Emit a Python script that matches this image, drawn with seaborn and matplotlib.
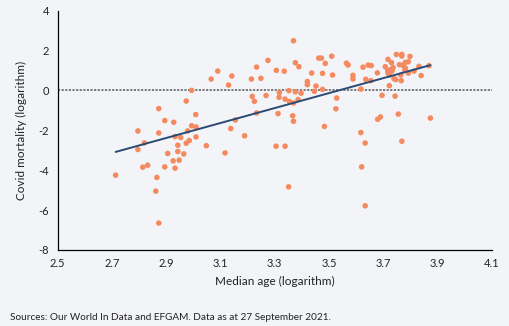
import matplotlib
matplotlib.use("Agg")
import matplotlib.pyplot as plt
import seaborn as sns
import pandas as pd
import numpy as np

# Median age (logarithm)
median_age_log = [
    2.714, 2.796, 2.796, 2.820, 2.832, 2.814, 2.862, 2.866, 2.873, 2.873,
    2.873, 2.895, 2.895, 2.906, 2.928, 2.926, 2.933, 2.933, 2.943, 2.943,
    2.948, 2.954, 2.965, 2.974, 2.974, 2.979, 2.985, 2.994, 2.994, 3.009,
    3.010, 3.010, 3.048, 3.066, 3.090, 3.117, 3.130, 3.138, 3.142, 3.155,
    3.189, 3.214, 3.217, 3.225, 3.233, 3.233, 3.249, 3.268, 3.275, 3.306,
    3.305, 3.312, 3.317, 3.316, 3.335, 3.338, 3.338, 3.351, 3.352, 3.354,
    3.366, 3.369, 3.369, 3.369, 3.376, 3.376, 3.386, 3.389, 3.397, 3.420,
    3.420, 3.436, 3.446, 3.452, 3.462, 3.472, 3.476, 3.476, 3.483, 3.486,
    3.510, 3.513, 3.525, 3.528, 3.564, 3.570, 3.588, 3.588, 3.617, 3.617,
    3.620, 3.625, 3.633, 3.633, 3.635, 3.644, 3.655, 3.654, 3.678, 3.679,
    3.689, 3.695, 3.707, 3.717, 3.717, 3.722, 3.722, 3.730, 3.736, 3.728,
    3.716, 3.732, 3.739, 3.743, 3.748, 3.746, 3.755, 3.759, 3.771, 3.764,
    3.766, 3.768, 3.768, 3.768, 3.781, 3.781, 3.779, 3.792, 3.792, 3.798,
    3.813, 3.831, 3.839, 3.868, 3.873,
]

# Covid mortality (logarithm)
covid_mortality_log = [
    -4.25, -2.035, -2.965, -2.635, -3.75, -3.85, -5.05, -4.365, -6.65, -0.915,
    -2.135, -1.515, -3.835, -3.165, -1.6, -3.535, -2.315, -3.9, -2.75, -3.065,
    -3.5, -2.365, -3.185, -0.535, -2.65, -2.035, -2.515, 0.0, -1.775, -1.215,
    -1.835, -2.335, -2.775, 0.565, 0.965, -3.135, 0.265, -1.915, 0.715, -1.485,
    -2.275, 0.565, -0.3, -0.55, -1.135, 1.165, 0.6, -0.26, 1.5, 1.0,
    -2.8, -1.165, -0.11, -0.35, 0.96, -0.44, -2.8, -4.835, -0.015, -0.56,
    -1.275, -1.55, 2.485, -0.635, 1.385, -0.075, -0.46, 1.185, -0.14, 0.44,
    0.285, 0.865, -0.05, 0.215, 1.615, 1.615, 0.85, 0.05, -1.81, 1.35,
    1.71, 0.765, -0.925, -0.385, 1.36, 1.27, 0.75, 0.57, 0.065, -2.115,
    -3.835, 1.16, -2.64, -5.785, 0.55, 1.265, 1.24, 0.485, 0.875, -1.45,
    -1.335, -0.25, 1.185, 1.55, 0.865, 0.765, 0.235, 1.385, 1.135, 1.05,
    1.0, 0.965, 0.585, -0.29, 1.8, 0.535, -1.19, 1.285, 1.25, 0.765,
    0.485, 1.8, 1.715, -2.55, 1.4, 1.115, 1.0, 1.435, 0.865, 1.7,
    0.965, 1.2, 0.74, 1.235, -1.39,
]

x_ticks = [2.5, 2.7, 2.9, 3.1, 3.3, 3.5, 3.7, 3.9, 4.1]
x_tick_labels = ["2.5", "2.7", "2.9", "3.1", "3.3", "3.5", "3.7", "3.9", "4.1"]
y_ticks = [-8, -6, -4, -2, 0, 2, 4]
y_tick_labels = ["-8", "-6", "-4", "-2", "0", "2", "4"]

df = pd.DataFrame({"age": median_age_log, "mort": covid_mortality_log})

sns.set_style("white")
plt.rcParams["font.family"] = ["Lato", "DejaVu Sans"]
plt.rcParams["axes.unicode_minus"] = False

bg = "#f2f4f7"
fig = plt.figure(figsize=(5.09, 3.26), dpi=100, facecolor=bg)
ax = fig.add_axes([57.5 / 509, 1 - 250 / 326, (492 - 57.5) / 509, (250 - 10.5) / 326])
ax.set_facecolor(bg)

ax.axhline(0, color="#6e6e6e", linestyle=(0, (1.2, 0.8)), lw=1.3, zorder=1)

sns.regplot(
    data=df, x="age", y="mort", ax=ax, ci=None,
    scatter_kws=dict(s=16, color="#f5895f", edgecolor="none", alpha=1, zorder=2),
    line_kws=dict(color="#2b4a73", lw=1.4, zorder=3),
)

ax.set_xlim(2.5, 4.1)
ax.set_ylim(-8, 4)
ax.set_xticks(x_ticks)
ax.set_xticklabels(x_tick_labels)
ax.set_yticks(y_ticks)
ax.set_yticklabels(y_tick_labels)

for s in ["top", "right"]:
    ax.spines[s].set_visible(False)
for s in ["left", "bottom"]:
    ax.spines[s].set_color("black")
    ax.spines[s].set_linewidth(0.9)

ax.tick_params(axis="both", which="major", length=3, width=0.8, color="black",
               labelsize=8, labelcolor="#222222", direction="out")
ax.tick_params(axis="x", pad=3)
ax.tick_params(axis="y", pad=3)

ax.set_xlabel("Median age (logarithm)", fontsize=8.5, color="#222222", labelpad=5)
ax.set_ylabel("Covid mortality (logarithm)", fontsize=8.5, color="#222222", labelpad=8)

fig.text(10 / 509, 1 - 318 / 326, "Sources: Our World In Data and EFGAM. Data as at 27 September 2021.",
         fontsize=7.2, color="#222222", ha="left", va="center")

fig.savefig("out.png", dpi=100, facecolor=bg)
